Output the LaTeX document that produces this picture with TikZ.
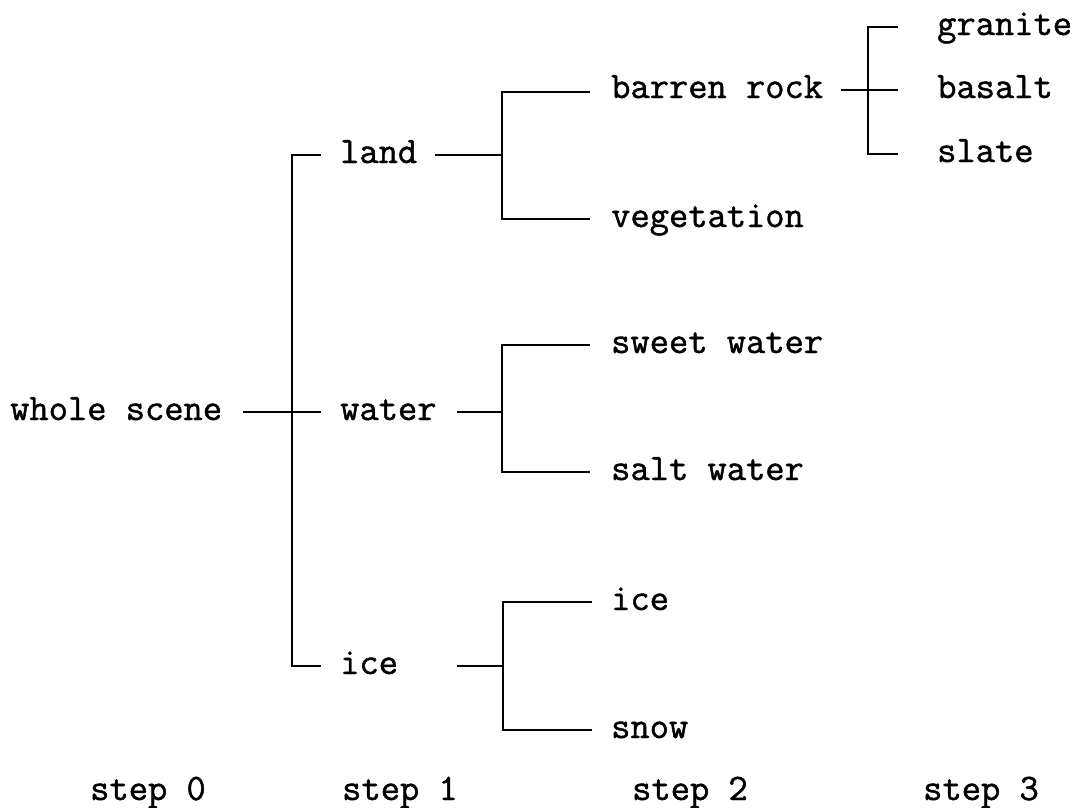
\documentclass[tikz,border=0pt]{standalone}
\usepackage{fontspec}
\newfontfamily\treefont[FakeBold=1.2]{Latin Modern Mono}
\begin{document}
\begin{tikzpicture}[x=1pt,y=-1pt,
  lbl/.style={anchor=base west,inner sep=0pt,font=\fontsize{37.4}{40}\treefont},
  link/.style={line width=2.4pt,line join=miter}]
\useasboundingbox (0,0) rectangle (1073,807);

% labels (baselines sit 8 units below the connector level)
\node[lbl] (ws)   at (10,420)  {whole scene};
\node[lbl] (land) at (340,163) {land};
\node[lbl] (wat)  at (340,420) {water};
\node[lbl] (ice)  at (340,674) {ice};
\node[lbl] (br)   at (611,98)  {barren rock};
\node[lbl] (veg)  at (611,227) {vegetation};
\node[lbl] (sw)   at (611,353) {sweet water};
\node[lbl] (salt) at (611,480) {salt water};
\node[lbl] (ice2) at (611,610) {ice};
\node[lbl] (snow) at (611,738) {snow};
\node[lbl] (gra)  at (937,35)  {granite};
\node[lbl] (bas)  at (937,98)  {basalt};
\node[lbl] (sla)  at (937,162) {slate};

% column captions
\node[lbl] (s0) at (90,800)  {step 0};
\node[lbl] (s1) at (342,800) {step 1};
\node[lbl] (s2) at (632,800) {step 2};
\node[lbl] (s3) at (923,800) {step 3};

% connector points
\coordinate (ws-o)   at (243,412);
\coordinate (t-top)  at (292,155);
\coordinate (t-mid)  at (292,412);
\coordinate (t-bot)  at (292,666);
\coordinate (land-i) at (321,155);
\coordinate (wat-i)  at (321,412);
\coordinate (ice-i)  at (321,666);

\coordinate (land-o) at (435,155);
\coordinate (wat-o)  at (457,412);
\coordinate (ice-o)  at (457,666);
\coordinate (l-j)    at (502,155);
\coordinate (w-j)    at (502,412);
\coordinate (i-j)    at (503,666);
\coordinate (l-top)  at (502,92);
\coordinate (l-bot)  at (502,219);
\coordinate (w-top)  at (502,345);
\coordinate (w-bot)  at (502,472);
\coordinate (i-top)  at (503,602);
\coordinate (i-bot)  at (503,730);
\coordinate (br-i)   at (590,92);
\coordinate (veg-i)  at (590,219);
\coordinate (sw-i)   at (590,345);
\coordinate (salt-i) at (590,472);
\coordinate (ice2-i) at (592,602);
\coordinate (snow-i) at (592,730);

\coordinate (br-o)   at (841,90);
\coordinate (r-top)  at (868,27);
\coordinate (r-mid)  at (868,90);
\coordinate (r-bot)  at (868,154);
\coordinate (gra-i)  at (898,27);
\coordinate (bas-i)  at (898,90);
\coordinate (sla-i)  at (898,154);

% step 0 -> step 1
\draw[link] (ws-o) -- (t-mid);
\draw[link] (land-i) -- (t-top) -- (t-bot) -- (ice-i);
\draw[link] (t-mid) -- (wat-i);

% step 1 -> step 2
\draw[link] (land-o) -- (l-j);
\draw[link] (br-i) -- (l-top) -- (l-bot) -- (veg-i);
\draw[link] (wat-o) -- (w-j);
\draw[link] (sw-i) -- (w-top) -- (w-bot) -- (salt-i);
\draw[link] (ice-o) -- (i-j);
\draw[link] (ice2-i) -- (i-top) -- (i-bot) -- (snow-i);

% step 2 -> step 3
\draw[link] (br-o) -- (r-mid) -- (bas-i);
\draw[link] (gra-i) -- (r-top) -- (r-bot) -- (sla-i);
\end{tikzpicture}
\end{document}
